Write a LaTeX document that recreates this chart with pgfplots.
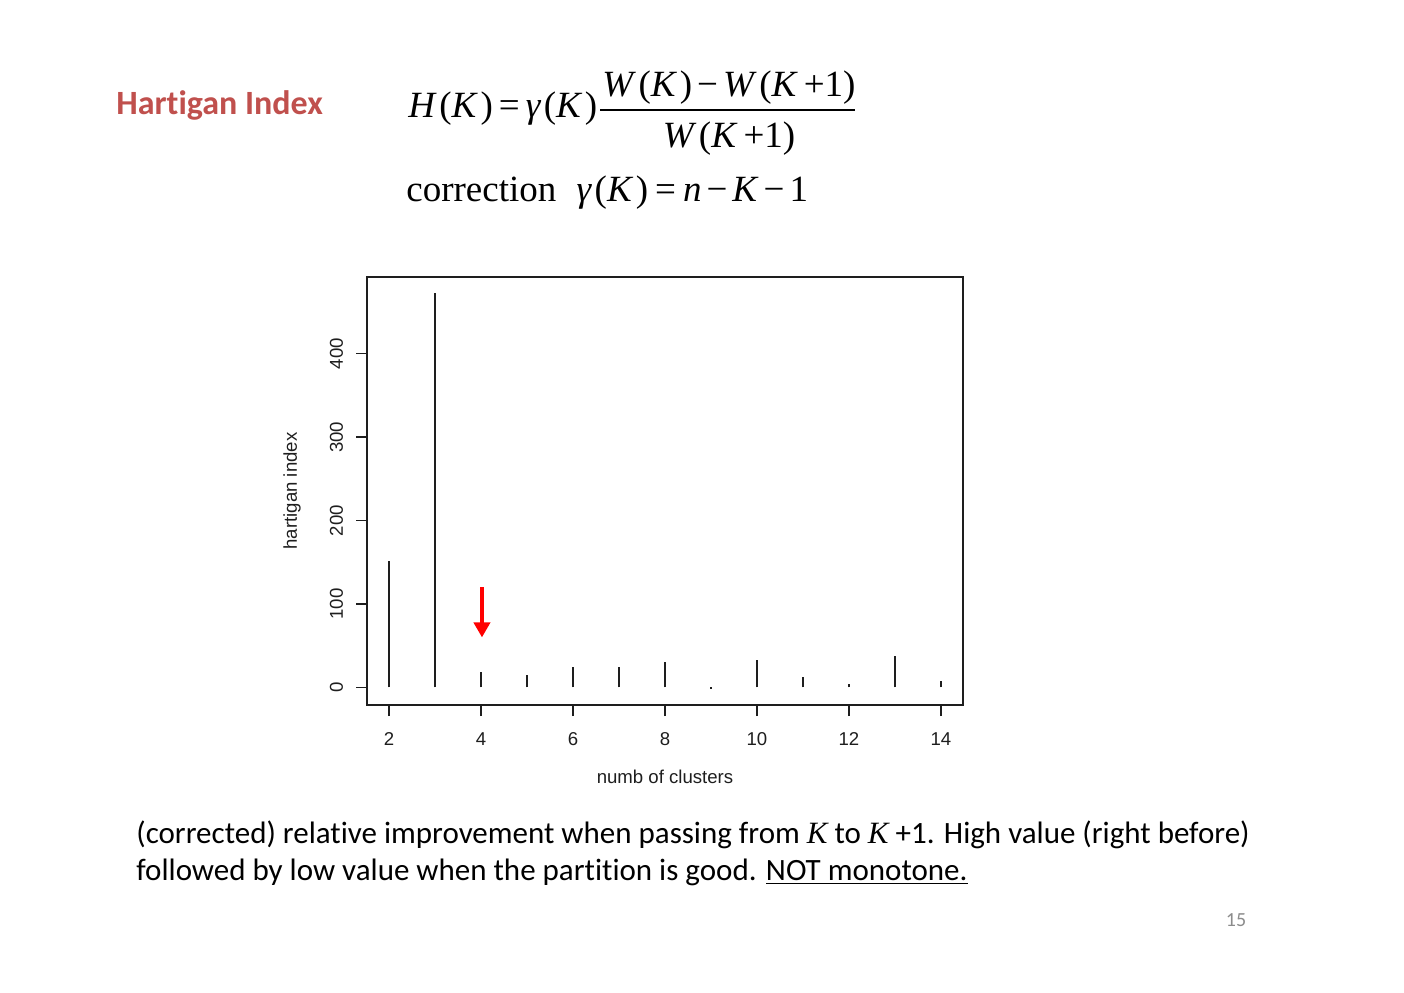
\documentclass[border=0pt]{standalone}
\usepackage{pgfplots}
\pgfplotsset{compat=1.18}
\usetikzlibrary{arrows.meta}
\usepackage{fontspec}
\setmainfont{Carlito}[Ligatures=NoCommon]
\newfontfamily\tnr{Liberation Serif}
\newfontfamily\arial{Liberation Sans}
\definecolor{titlered}{RGB}{192,80,77}
\definecolor{pagegray}{RGB}{140,140,140}
\definecolor{rgray}{RGB}{30,30,30}
\newcommand{\ik}{\kern1.3pt}
\begin{document}
\begin{tikzpicture}
\begin{scope}[x=0.5pt,y=-0.5pt,yshift=496pt]
\path[use as bounding box] (0,0) rectangle (1404,992);
% slide title and formula
\node[anchor=base west,inner sep=0,text=titlered,font=\bfseries\fontsize{17}{20}\selectfont] at (116,115) {Hartigan Index};
\node[anchor=base west,inner sep=0,font=\tnr\fontsize{18.5}{22}\selectfont] at (408,118)
  {\textit{H}\ik(\textit{K}\ik)\kern3pt=\kern3pt\textit{γ}\ik(\textit{K}\ik)};
\node[anchor=base,inner sep=0,font=\tnr\fontsize{18.5}{22}\selectfont] at (729,97)
  {\textit{W}\ik(\textit{K}\ik)\kern2.5pt−\kern2.5pt\textit{W}\ik(\textit{K}\kern3pt+1)};
\draw[line width=1pt] (600,110) -- (855,110);
\node[anchor=base,inner sep=0,font=\tnr\fontsize{18.5}{22}\selectfont] at (729,148)
  {\textit{W}\ik(\textit{K}\kern3pt+1)};
\node[anchor=base west,inner sep=0,font=\tnr\fontsize{18.5}{22}\selectfont] at (406,202)
  {correction\hspace{0.55em}\textit{γ}\ik(\textit{K}\ik)\kern3.5pt=\kern3.5pt\textit{n}\kern2.5pt−\kern2.5pt\textit{K}\kern2.5pt−\kern2.5pt1};
\end{scope}
% chart
\begin{axis}[
  at={(183.5pt,143.5pt)}, anchor=south west,
  scale only axis, width=298pt, height=214pt,
  xmin=1.52, xmax=14.48, ymin=-21, ymax=492,
  xtick={2,4,...,14}, ytick={0,100,...,400},
  xtick pos=bottom, ytick pos=left,
  tick align=outside, major tick length=5.5pt,
  axis line style={rgray,line width=0.75pt},
  tick style={rgray,line width=0.75pt},
  ticklabel style={font=\arial\fontsize{9.3}{11}\selectfont,text=rgray,text height=6.8pt,text depth=0pt},
  /pgf/number format/assume math mode=true,
  x tick label style={yshift=-4.5pt},
  y tick label style={rotate=90,anchor=south,yshift=3pt},
  xlabel={numb of clusters}, ylabel={hartigan index},
  label style={font=\arial\fontsize{9.3}{11}\selectfont,text=rgray},
  xlabel style={at={(axis description cs:0.5,0)},anchor=center,yshift=-36pt},
  ylabel style={at={(axis description cs:0,0.5)},anchor=center,yshift=37.5pt},
]
\addplot[ycomb, rgray, line width=0.75pt, mark=none] coordinates {
(2,152) (3,473) (4,19) (5,15) (6,25) (7,24) (8,31) (9,-2)
(10,33) (11,12) (12,4) (13,38) (14,8)
};
\draw[red, line width=2pt, -{Triangle[width=8pt,length=7.5pt]}] (axis cs:4.02,120) -- (axis cs:4.02,60);
\end{axis}
\begin{scope}[x=0.5pt,y=-0.5pt,yshift=496pt]
% caption
\node[anchor=base west,inner sep=0,font=\fontsize{15.5}{18}\selectfont] at (136,843)
  {(corrected) relative improvement when passing from {\tnr\itshape K} to {\tnr\itshape K} +1. High value (right before)};
\node[anchor=base west,inner sep=0,font=\fontsize{15.5}{18}\selectfont] at (136,880)
  {followed by low value when the partition is good. \underline{NOT monotone.}};
\node[anchor=center,inner sep=0,text=pagegray,font=\fontsize{10}{12}\selectfont] at (1236,920) {15};
\end{scope}
\end{tikzpicture}
\end{document}
